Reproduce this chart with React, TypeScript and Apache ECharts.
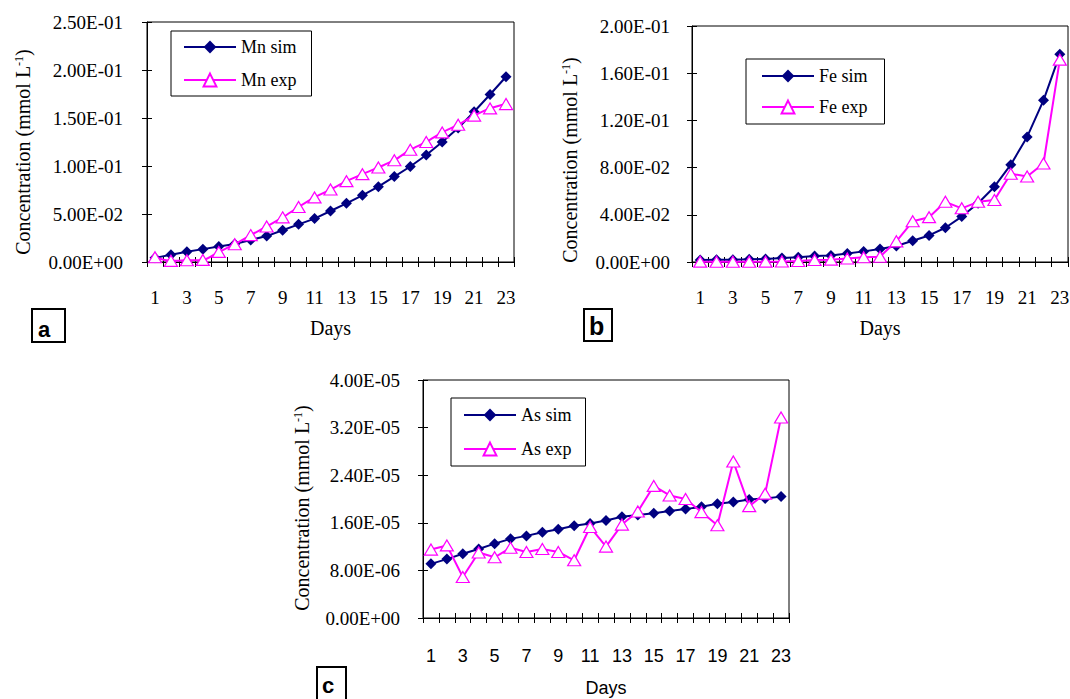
import React, { useEffect, useRef } from 'react';
import * as echarts from 'echarts';

const DAYS = ['1','2','3','4','5','6','7','8','9','10','11','12','13','14','15','16','17','18','19','20','21','22','23'];

const MN_SIM = [0.0043, 0.0075, 0.0106, 0.0134, 0.0162, 0.0187, 0.023, 0.027, 0.0331, 0.0392, 0.0452, 0.0531, 0.0611, 0.0695, 0.0785, 0.089, 0.0995, 0.1115, 0.125, 0.1395, 0.1565, 0.1745, 0.193];
const MN_EXP = [0.0049, 0.0012, 0.0018, 0.0022, 0.0105, 0.0185, 0.028, 0.037, 0.0465, 0.0573, 0.0673, 0.0755, 0.0842, 0.0915, 0.0985, 0.106, 0.117, 0.125, 0.135, 0.143, 0.1525, 0.16, 0.1645];

const FE_SIM = [0.0017, 0.002, 0.002, 0.0023, 0.0025, 0.0034, 0.004, 0.005, 0.0056, 0.0073, 0.009, 0.011, 0.0136, 0.018, 0.0225, 0.029, 0.0385, 0.0498, 0.0638, 0.0825, 0.106, 0.137, 0.176];
const FE_EXP = [0.0003, 0.0002, 0.0002, 0.0002, 0.0003, 0.0004, 0.0008, 0.0017, 0.002, 0.003, 0.004, 0.0045, 0.0175, 0.0345, 0.038, 0.051, 0.0455, 0.051, 0.0525, 0.0748, 0.0725, 0.0835, 0.1715];

const AS_SIM = [9.1e-6, 9.9e-6, 1.08e-5, 1.16e-5, 1.25e-5, 1.33e-5, 1.38e-5, 1.44e-5, 1.49e-5, 1.55e-5, 1.59e-5, 1.64e-5, 1.70e-5, 1.73e-5, 1.76e-5, 1.80e-5, 1.83e-5, 1.87e-5, 1.92e-5, 1.95e-5, 1.99e-5, 2.01e-5, 2.04e-5];
const AS_EXP = [1.15e-5, 1.22e-5, 6.9e-6, 1.10e-5, 1.02e-5, 1.18e-5, 1.11e-5, 1.16e-5, 1.11e-5, 9.7e-6, 1.53e-5, 1.20e-5, 1.57e-5, 1.79e-5, 2.22e-5, 2.06e-5, 2.00e-5, 1.78e-5, 1.56e-5, 2.63e-5, 1.88e-5, 2.09e-5, 3.37e-5];

const SERIF = "'Liberation Serif', 'Times New Roman', serif";
const SANS = "'Liberation Sans', Arial, sans-serif";
const NAVY = '#000080';
const MAGENTA = '#FF00FF';

function sci(v: number): string {
  if (Math.abs(v) < 1e-15) return '0.00E+00';
  const parts = v.toExponential(2).split('e');
  const n = parseInt(parts[1], 10);
  return parts[0] + 'E' + (n < 0 ? '-' : '+') + String(Math.abs(n)).padStart(2, '0');
}

interface Panel {
  grid: { left: number; top: number; width: number; height: number };
  yMax: number;
  yInterval: number;
  xFont: string;
  xFontSize: number;
  xLabelMargin: number;
  xNameGap: number;
  yLabelMargin: number;
  yNameGap: number;
  yNamePad: number;
  simName: string;
  expName: string;
  sim: number[];
  exp: number[];
  smooth: number | boolean;
  legend: { left: number; top: number; padding: number[]; itemGap: number };
}

const PANELS: Panel[] = [
  {
    grid: { left: 147, top: 22, width: 367, height: 240 },
    yMax: 0.25, yInterval: 0.05,
    xFont: SERIF, xFontSize: 19, xLabelMargin: 26, xNameGap: 56,
    yLabelMargin: 24, yNameGap: 114, yNamePad: 20,
    simName: 'Mn sim', expName: 'Mn exp', sim: MN_SIM, exp: MN_EXP, smooth: 0.3,
    legend: { left: 171, top: 31, padding: [7, 15, 7, 12], itemGap: 15 },
  },
  {
    grid: { left: 692, top: 26, width: 376, height: 236 },
    yMax: 0.2, yInterval: 0.04,
    xFont: SERIF, xFontSize: 19, xLabelMargin: 26, xNameGap: 56,
    yLabelMargin: 22, yNameGap: 112, yNamePad: 32,
    simName: 'Fe sim', expName: 'Fe exp', sim: FE_SIM, exp: FE_EXP, smooth: false,
    legend: { left: 746, top: 59, padding: [8, 17, 8, 15], itemGap: 13 },
  },
  {
    grid: { left: 423, top: 380, width: 366, height: 238 },
    yMax: 4e-5, yInterval: 8e-6,
    xFont: SANS, xFontSize: 18, xLabelMargin: 29, xNameGap: 61,
    yLabelMargin: 23, yNameGap: 111, yNamePad: 18,
    simName: 'As sim', expName: 'As exp', sim: AS_SIM, exp: AS_EXP, smooth: false,
    legend: { left: 451, top: 398, padding: [8, 14, 8, 12], itemGap: 16 },
  },
];

function buildOption() {
  const grids: any[] = [];
  const xAxes: any[] = [];
  const yAxes: any[] = [];
  const series: any[] = [];
  const legends: any[] = [];

  PANELS.forEach((p, i) => {
    grids.push({
      ...p.grid,
      show: true,
      borderColor: '#000',
      borderWidth: 1,
      backgroundColor: 'transparent',
      containLabel: false,
      outerBoundsMode: 'none',
    });
    xAxes.push({
      gridIndex: i,
      type: 'category',
      data: DAYS,
      boundaryGap: true,
      position: 'bottom',
      axisLine: { show: true, onZero: false, lineStyle: { color: '#000', width: 1 } },
      axisTick: { show: true, interval: 0, length: 5, alignWithLabel: false, lineStyle: { color: '#000', width: 1 } },
      axisLabel: { interval: 1, fontFamily: p.xFont, fontSize: p.xFontSize, color: '#000', margin: p.xLabelMargin },
      splitLine: { show: false },
      name: 'Days',
      nameLocation: 'middle',
      nameGap: p.xNameGap,
      nameTextStyle: { fontFamily: p.xFont, fontSize: p.xFont === SANS ? 18 : 20, color: '#000' },
    });
    xAxes.push({
      gridIndex: i,
      type: 'category',
      data: DAYS,
      boundaryGap: true,
      position: 'bottom',
      axisLine: { show: false, onZero: false },
      axisTick: { show: true, inside: true, interval: 0, length: 5, alignWithLabel: false, lineStyle: { color: '#000', width: 1 } },
      axisLabel: { show: false },
      splitLine: { show: false },
    });
    yAxes.push({
      gridIndex: i,
      type: 'value',
      min: 0,
      max: p.yMax,
      interval: p.yInterval,
      position: 'left',
      axisLine: { show: true, lineStyle: { color: '#000', width: 1 } },
      axisTick: { show: true, length: 5, lineStyle: { color: '#000', width: 1 } },
      axisLabel: { formatter: sci, fontFamily: SERIF, fontSize: 19, color: '#000', margin: p.yLabelMargin },
      splitLine: { show: false },
      name: 'Concentration (mmol L{sup|-1})',
      nameLocation: 'middle',
      nameRotate: 90,
      nameGap: p.yNameGap,
      nameTextStyle: {
        fontFamily: SERIF,
        fontSize: 20,
        color: '#000',
        padding: [0, p.yNamePad, 0, 0],
        rich: {
          sup: { fontFamily: SERIF, fontSize: 12, color: '#000', verticalAlign: 'top' },
        },
      },
    });
    yAxes.push({
      gridIndex: i,
      type: 'value',
      min: 0,
      max: p.yMax,
      interval: p.yInterval,
      position: 'left',
      axisLine: { show: false },
      axisTick: { show: true, inside: true, length: 5, lineStyle: { color: '#000', width: 1 } },
      axisLabel: { show: false },
      splitLine: { show: false },
    });
    series.push({
      type: 'line',
      name: p.simName,
      xAxisIndex: 2 * i,
      yAxisIndex: 2 * i,
      data: p.sim,
      symbol: 'diamond',
      symbolSize: 11,
      showAllSymbol: true,
      lineStyle: { color: NAVY, width: 2 },
      itemStyle: { color: NAVY },
      z: 2,
    });
    series.push({
      type: 'line',
      name: p.expName,
      xAxisIndex: 2 * i,
      yAxisIndex: 2 * i,
      data: p.exp,
      symbol: 'triangle',
      symbolSize: [13, 11],
      showAllSymbol: true,
      smooth: p.smooth,
      lineStyle: { color: MAGENTA, width: 2 },
      itemStyle: { color: '#fff', borderColor: MAGENTA, borderWidth: 1.2 },
      z: 3,
    });
    legends.push({
      show: true,
      orient: 'vertical',
      left: p.legend.left,
      top: p.legend.top,
      padding: p.legend.padding,
      itemGap: p.legend.itemGap,
      itemWidth: 52,
      itemHeight: 16,
      data: [p.simName, p.expName],
      borderColor: '#000',
      borderWidth: 1,
      backgroundColor: '#fff',
      selectedMode: false,
      textStyle: { fontFamily: SERIF, fontSize: 18, color: '#000' },
    });
  });

  const boxes = [
    { label: 'a', x: 32, y: 309, w: 33, h: 33, fs: 22, tx: 38, ty: 329 },
    { label: 'b', x: 584, y: 309, w: 28, h: 32, fs: 25, tx: 589, ty: 326 },
    { label: 'c', x: 317, y: 667, w: 29, h: 40, fs: 22, tx: 322, ty: 685 },
  ];
  const graphic: any[] = [];
  boxes.forEach((b) => {
    graphic.push({
      type: 'rect',
      shape: { x: b.x, y: b.y, width: b.w, height: b.h },
      style: { fill: 'none', stroke: '#000', lineWidth: 2 },
      z: 10,
    });
    graphic.push({
      type: 'text',
      x: b.tx,
      y: b.ty,
      style: { text: b.label, font: `bold ${b.fs}px ${SANS}`, fill: '#000', verticalAlign: 'middle', align: 'left' },
      z: 10,
    });
  });

  return {
    animation: false,
    backgroundColor: '#fff',
    grid: grids,
    xAxis: xAxes,
    yAxis: yAxes,
    legend: legends,
    series,
    graphic,
  };
}

export default function App() {
  const ref = useRef<HTMLDivElement>(null);
  useEffect(() => {
    if (!ref.current) return;
    const chart = echarts.init(ref.current, undefined, { renderer: 'svg' });
    chart.setOption(buildOption() as any);
    return () => chart.dispose();
  }, []);
  return (
    <div
      ref={ref}
      style={{ position: 'fixed', left: 0, top: 0, width: 1070, height: 699, background: '#fff' }}
    />
  );
}
